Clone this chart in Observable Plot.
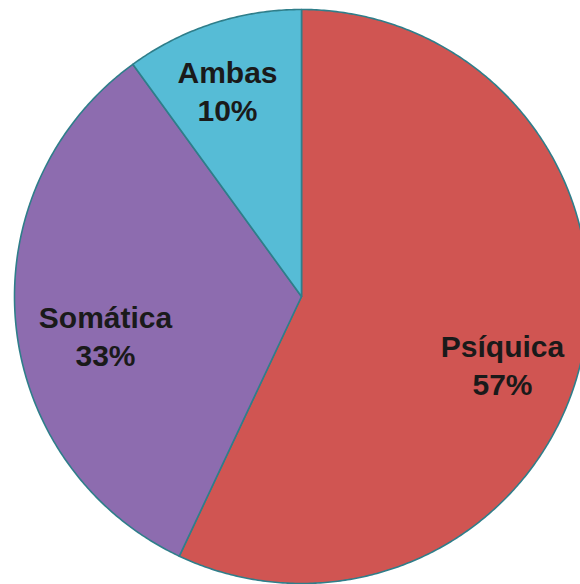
<!DOCTYPE html>
<html>
<head>
<meta charset="utf-8">
<script src="https://cdn.jsdelivr.net/npm/d3@7"></script>
<script src="https://cdn.jsdelivr.net/npm/@observablehq/plot@0.6"></script>
<style>
  html, body { margin: 0; padding: 0; background: #ffffff; }
  #chart { width: 580px; height: 584px; overflow: hidden; }
</style>
</head>
<body>
<div id="chart"></div>
<script>
const categories = ["Psíquica", "Somática", "Ambas"];
const values = [57, 33, 10];
const percentLabels = ["57%", "33%", "10%"];
const colors = ["#D05552", "#8D6CAF", "#56BCD6"];

// Geometry (pixels) used only to set up the scales
const W = 580, H = 584, CX = 301, CY = 296, R = 287;

const total = d3.sum(values);
const slices = [];
const labels = [];
// per-slice label nudges (angle offset in degrees, radius fraction)
const labelLayout = {
  "Psíquica": {da: 6, r: 0.739},
  "Somática": {da: -5.7, r: 0.696},
  "Ambas": {da: -1.7, r: 0.765}
};
let acc = 0;
categories.forEach((c, i) => {
  const a0 = acc / total * 360;
  acc += values[i];
  const a1 = acc / total * 360;
  const pts = [{cat: c, x: 0, y: 0}];
  const n = Math.max(2, Math.ceil((a1 - a0) / 0.5));
  for (let k = 0; k <= n; k++) {
    const a = (a0 + (a1 - a0) * k / n) * Math.PI / 180;
    pts.push({cat: c, x: Math.sin(a), y: Math.cos(a)});
  }
  pts.push({cat: c, x: 0, y: 0});
  slices.push(...pts);
  const L = labelLayout[c];
  const am = ((a0 + a1) / 2 + L.da) * Math.PI / 180;
  labels.push({cat: c, text: c + "\n" + percentLabels[i], x: L.r * Math.sin(am), y: L.r * Math.cos(am)});
});

const chart = Plot.plot({
  width: W,
  height: H,
  margin: 0,
  x: {domain: [-CX / R, (W - CX) / R], range: [0, W], axis: null},
  y: {domain: [-(H - CY) / R, CY / R], range: [H, 0], axis: null},
  color: {domain: categories, range: colors},
  style: {background: "transparent"},
  marks: [
    Plot.line(slices, {x: "x", y: "y", z: "cat", fill: "cat", stroke: "#2F7E8A", strokeWidth: 1.6, strokeLinejoin: "round", curve: "linear"}),
    Plot.text(labels, {
      x: "x", y: "y", text: "text",
      fontSize: 30, fontWeight: "bold", lineHeight: 1.27,
      fontFamily: "'Liberation Sans', Arial, sans-serif",
      fill: "#1a1a1a", textAnchor: "middle", lineAnchor: "middle",
      letterSpacing: "1px"
    })
  ]
});
document.getElementById("chart").appendChild(chart);
</script>
</body>
</html>
